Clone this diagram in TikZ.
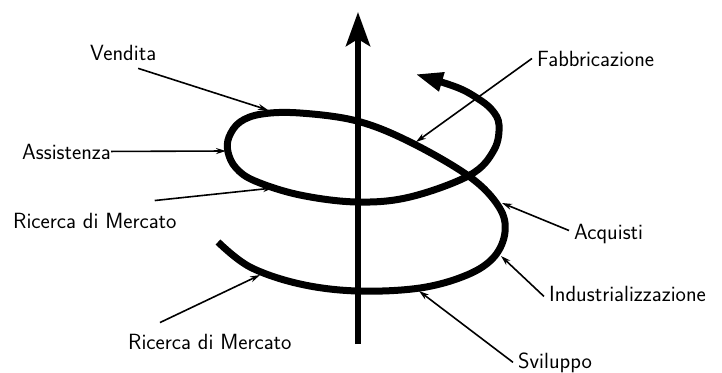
\documentclass[tikz,border=0pt]{standalone}
\usetikzlibrary{arrows.meta,calc}
\tikzset{
  lbl/.style={font=\sffamily\fontsize{22}{26}\selectfont, inner sep=0pt, anchor=base west},
  ldr/.style={line width=1.6pt, -{Stealth[length=10pt,width=6pt]}},
}
\begin{document}
\begin{tikzpicture}[x=1pt, y=-1pt]
\useasboundingbox (0,0) rectangle (722,372);
\draw[line width=6pt, -{Stealth[length=34pt,width=24pt,inset=7pt]}](358,344)--(358,12);
\draw[line width=7pt, -{Triangle[length=28pt,width=18pt]}] plot[smooth, tension=.6] coordinates {
 (218,242) (250,267) (300,284) (357,291) (420,288) (467,275) (494,257) (505,232) (499,207)
 (470,177) (410,142) (357,121) (300,113) (262,114) (240,122) (229,137) (228,152)
 (236,168) (255,181) (300,195) (357,202) (410,197) (470,175) (494,150)
 (499,125) (492,110) (477,98) (456,87) (415,74)};
\coordinate (tVen) at (268,110);
\coordinate (tAss) at (226,151);
\coordinate (tRic1) at (273,188);
\coordinate (tRic2) at (260,275);
\coordinate (tFab) at (416,142);
\coordinate (tAcq) at (502,203);
\coordinate (tInd) at (501,256);
\coordinate (tSvi) at (419,291);
\node[lbl] (ven) at (90,60) {Vendita};
\node[lbl] (ass) at (22,159) {Assistenza};
\node[lbl] (ric1) at (13,228) {Ricerca di Mercato};
\node[lbl] (ric2) at (128,349) {Ricerca di Mercato};
\node[lbl] (fab) at (537,66) {Fabbricazione};
\node[lbl] (acq) at (574,239) {Acquisti};
\node[lbl] (ind) at (549,301) {Industrializzazione};
\node[lbl] (svi) at (518,368) {Sviluppo};
\draw[ldr]($(ven.south)+(15,8)$)--(tVen);
\draw[ldr](ass.east)--(tAss);
\draw[ldr]($(ric1.north east)+(-22,-12)$)--(tRic1);
\draw[ldr]($(ric2.north west)+(32,-11)$)--(tRic2);
\draw[ldr]($(fab.west)+(-5,0)$)--(tFab);
\draw[ldr]($(acq.west)+(-5,-3)$)--(tAcq);
\draw[ldr]($(ind.west)+(-5,3)$)--(tInd);
\draw[ldr]($(svi.west)+(-5,0)$)--(tSvi);
\end{tikzpicture}
\end{document}
